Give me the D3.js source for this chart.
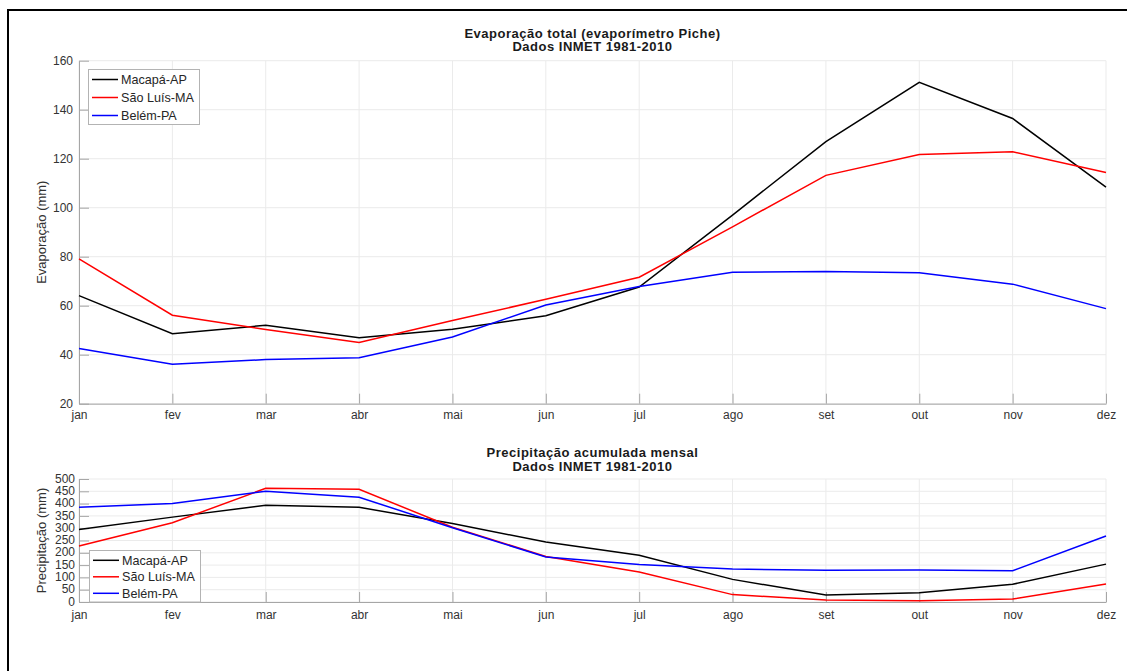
<!DOCTYPE html>
<html>
<head>
<meta charset="utf-8">
<script src="https://cdn.jsdelivr.net/npm/d3@7"></script>
<style>
  body { margin: 0; background: #fff; }
  svg { display: block; font-family: "Liberation Sans", Arial, sans-serif; }
</style>
</head>
<body>
<svg id="drawing_region"></svg>
<script>
const months = ['jan', 'fev', 'mar', 'abr', 'mai', 'jun', 'jul', 'ago', 'set', 'out', 'nov', 'dez'];
const stations = ['Macapá-AP', 'São Luís-MA', 'Belém-PA'];
const colors = ['#000000', '#ff0000', '#0000ff'];

// evaporação total (mm)
const evapMacapa  = [64.1, 48.6, 52.0, 46.9, 50.4, 55.9, 67.6, 97.0, 127.0, 151.2, 136.4, 108.4];
const evapSaoLuis = [79.1, 56.1, 50.3, 45.0, 54.0, 62.6, 71.6, 92.2, 113.2, 121.7, 122.8, 114.4];
const evapBelem   = [42.5, 36.1, 38.0, 38.8, 47.2, 60.3, 67.8, 73.7, 74.0, 73.4, 68.8, 58.8];
const evapTicks   = [20, 40, 60, 80, 100, 120, 140, 160];

// precipitação acumulada mensal (mm)
const precMacapa  = [295, 345, 393, 385, 319, 244, 190, 92, 28, 38, 72, 154];
const precSaoLuis = [228, 322, 462, 458, 304, 185, 122, 30, 8, 5, 12, 73];
const precBelem   = [385, 400, 450, 426, 302, 183, 152, 134, 129, 130, 127, 268];
const precTicks   = [0, 50, 100, 150, 200, 250, 300, 350, 400, 450, 500];

class LinePanel {

    constructor(config, series) {
        this.config = config;
        this.series = series;
        this.init();
    }

    init() {
        const self = this;
        const c = self.config;

        self.g = d3.select(c.parent).append('g');

        self.xscale = d3.scalePoint()
            .domain(months)
            .range([c.left, c.right]);

        self.yscale = d3.scaleLinear()
            .domain(d3.extent(c.yticks))
            .range([c.bottom, c.top]);

        self.xaxis = d3.axisBottom(self.xscale)
            .tickSizeInner(-10)
            .tickSizeOuter(0)
            .tickPadding(c.xpad);

        self.yaxis = d3.axisLeft(self.yscale)
            .tickValues(c.yticks)
            .tickSizeInner(-10)
            .tickSizeOuter(0)
            .tickPadding(c.ypad);
    }

    render() {
        const self = this;
        const c = self.config;

        // grid
        const grid = self.g.append('g')
            .attr('stroke', '#ebebeb')
            .attr('stroke-width', 1);
        grid.selectAll('.gx').data(months).join('line')
            .attr('x1', d => self.xscale(d)).attr('x2', d => self.xscale(d))
            .attr('y1', c.top).attr('y2', c.bottom);
        grid.selectAll('.gy').data(c.yticks).join('line')
            .attr('x1', c.left).attr('x2', c.right)
            .attr('y1', d => self.yscale(d)).attr('y2', d => self.yscale(d));

        // axes
        const xg = self.g.append('g')
            .attr('transform', `translate(0, ${c.bottom})`)
            .call(self.xaxis);
        const yg = self.g.append('g')
            .attr('transform', `translate(${c.left}, 0)`)
            .call(self.yaxis);
        yg.selectAll('text').attr('dy', c.ydy);
        [xg, yg].forEach(a => {
            a.selectAll('path, line').attr('stroke', '#a6a6a6');
            a.selectAll('text').attr('fill', '#333').attr('font-size', 12)
                .attr('font-family', '"Liberation Sans", Arial, sans-serif');
        });

        // series
        const line = d3.line()
            .x((d, i) => self.xscale(months[i]))
            .y(d => self.yscale(d));
        self.g.append('g').selectAll('path')
            .data(self.series)
            .join('path')
            .attr('d', d => line(d))
            .attr('fill', 'none')
            .attr('stroke', (d, i) => colors[i])
            .attr('stroke-width', 1.5);

        // titles
        const cx = (c.left + c.right) / 2;
        self.g.append('g').selectAll('text')
            .data(c.title)
            .join('text')
            .attr('x', cx)
            .attr('y', (d, i) => c.titleY + i * c.titleStep)
            .attr('text-anchor', 'middle')
            .attr('font-size', 13)
            .attr('letter-spacing', 0.5)
            .attr('font-weight', 'bold')
            .attr('fill', '#1a1a1a')
            .text(d => d);

        self.g.append('text')
            .attr('transform', `translate(46, ${(c.top + c.bottom) / 2}) rotate(-90)`)
            .attr('text-anchor', 'middle')
            .attr('font-size', 13)
            .attr('fill', '#333')
            .text(c.ylabel);

        // legend
        const lg = self.g.append('g')
            .attr('transform', `translate(${c.legend.x}, ${c.legend.y})`);
        lg.append('rect')
            .attr('x', 0.5).attr('y', 0.5)
            .attr('width', 111).attr('height', c.legend.h)
            .attr('fill', '#fff')
            .attr('stroke', '#b3b3b3');
        const item = lg.selectAll('.item')
            .data(stations)
            .join('g')
            .attr('transform', (d, i) => `translate(0, ${c.legend.first + i * c.legend.step})`);
        item.append('line')
            .attr('x1', 4).attr('x2', 30)
            .attr('stroke', (d, i) => colors[i])
            .attr('stroke-width', 1.5);
        item.append('text')
            .attr('x', 33).attr('dy', '0.35em')
            .attr('font-size', 12.6)
            .attr('fill', '#262626')
            .text(d => d);
    }
}

const svg = d3.select('#drawing_region')
    .attr('width', 1127)
    .attr('height', 671);

svg.append('rect')
    .attr('width', 1127).attr('height', 671)
    .attr('fill', '#fff');

svg.append('rect')
    .attr('x', 8).attr('y', 10)
    .attr('width', 1140).attr('height', 700)
    .attr('fill', 'none')
    .attr('stroke', '#000')
    .attr('stroke-width', 2);

const evapPanel = new LinePanel({
    parent: '#drawing_region',
    left: 79, right: 1106, top: 60.7, bottom: 403.7,
    yticks: evapTicks, ypad: 6, xpad: 7, ydy: '0.32em',
    title: ['Evaporação total (evaporímetro Piche)', 'Dados INMET 1981-2010'],
    titleY: 37.5, titleStep: 13.5,
    ylabel: 'Evaporação (mm)',
    legend: { x: 88, y: 69, h: 55, first: 10.5, step: 18 }
}, [evapMacapa, evapSaoLuis, evapBelem]);
evapPanel.render();

const precPanel = new LinePanel({
    parent: '#drawing_region',
    left: 79, right: 1106, top: 479, bottom: 602,
    yticks: precTicks, ypad: 4, xpad: 8, ydy: '0.26em',
    title: ['Precipitação acumulada mensal', 'Dados INMET 1981-2010'],
    titleY: 456.5, titleStep: 14,
    ylabel: 'Precipitação (mm)',
    legend: { x: 89, y: 550, h: 51.5, first: 10.3, step: 16.5 }
}, [precMacapa, precSaoLuis, precBelem]);
precPanel.render();
</script>
</body>
</html>
